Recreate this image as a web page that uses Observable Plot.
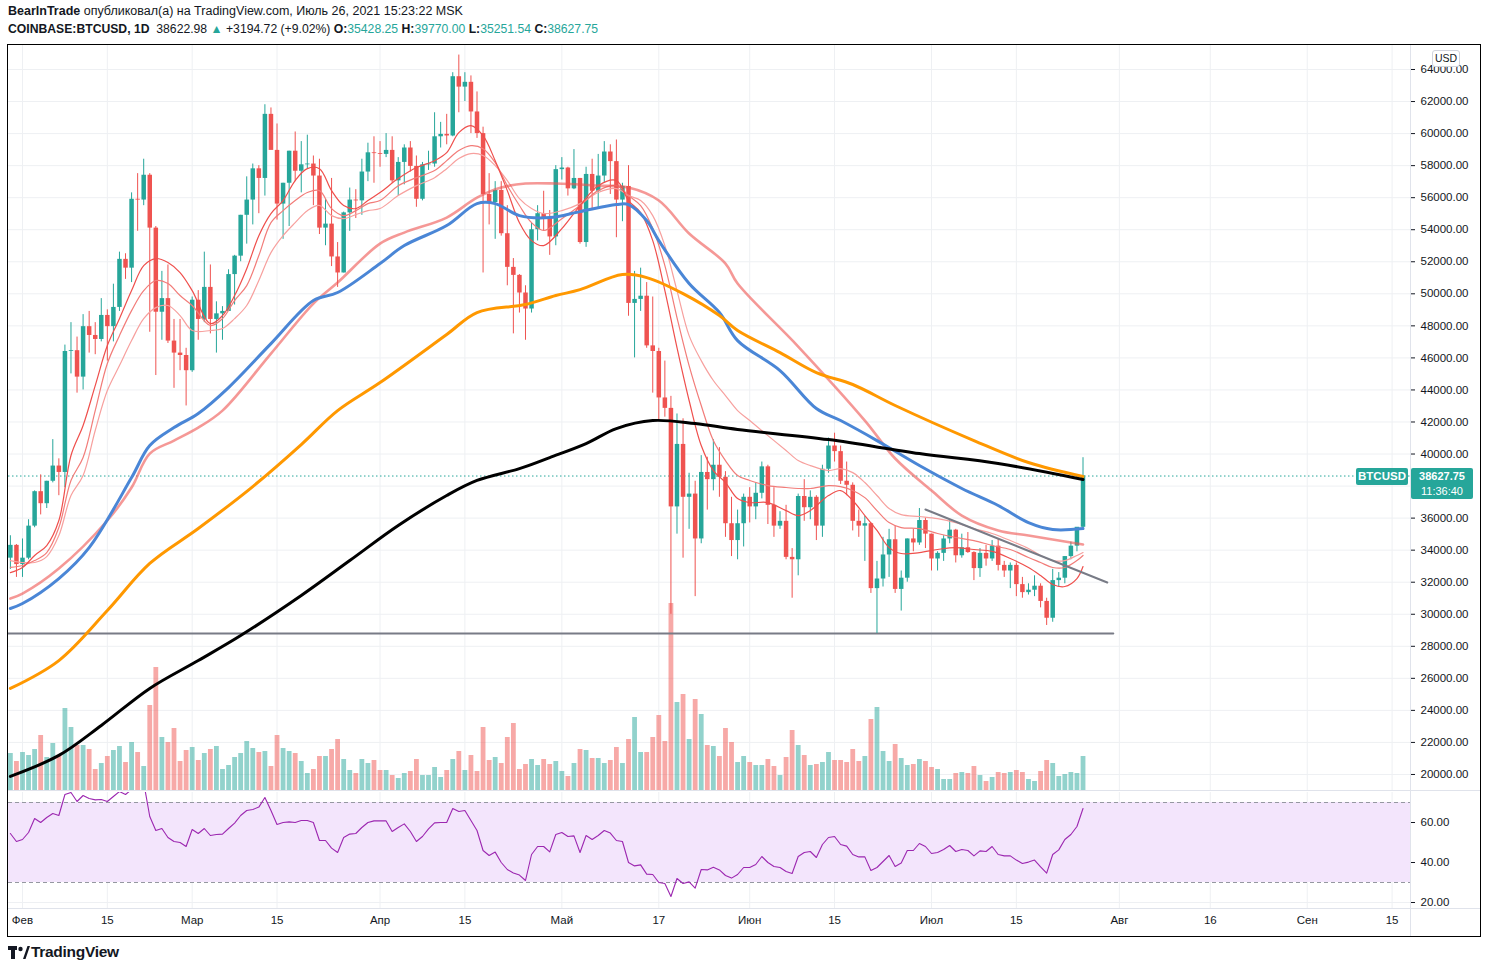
<!DOCTYPE html>
<html><head><meta charset="utf-8">
<script src="https://cdn.jsdelivr.net/npm/d3@7"></script>
<script src="https://cdn.jsdelivr.net/npm/@observablehq/plot@0.6"></script>
<style>
body{margin:0;background:#fff;font-family:"Liberation Sans",Arial,sans-serif;color:#131722;}
#root{position:relative;width:1487px;height:972px;overflow:hidden;background:#fff;}
.t{color:#26a69a;}
</style></head><body><div id="root"></div>
<script>
// ---------- DATA ----------
const firstDay = "2021-01-30";
const opens = [33500,34300,33100,33500,35500,37650,36900,38300,39250,38850,46400,46450,44800,47950,47400,47150,48650,47950,49150,52150,51600,55900,55850,57400,54100,48850,49700,47050,46300,46150,
45200,49600,48400,50400,48400,48750,48900,51200,52350,54900,55850,57800,57200,61200,58950,55600,56900,58900,57650,58050,58100,57350,54100,54350,52300,51300,55050,55850,55800,57600,58800,
58750,58700,58950,57050,58200,59100,57950,55900,58050,58100,59800,59950,59850,63550,62900,63200,61350,60000,56200,55700,56450,53750,51650,51150,50050,49050,54000,55000,54750,53550,
57750,57850,56550,57200,53200,57450,56400,57350,58850,58250,55850,56700,49400,49650,49850,46750,46400,43500,42850,36700,40600,37300,37500,34700,38850,38400,39300,38550,35650,34600,35650,
37300,36700,37550,39200,36800,35500,35800,33550,33400,37350,36650,37300,35500,39050,40500,40150,38300,38050,35800,35500,35650,31600,32200,33700,34650,31550,32250,34700,34450,35850,
35000,33450,33800,34700,35250,33650,34150,33850,32850,33800,33450,34250,33050,32700,33050,31850,31350,31500,31750,30800,29750,32100,32250,33600,34250,35428.25];
const highs = [34900,34350,34700,35900,37700,38700,38300,40900,39700,46800,48200,47300,48700,48900,48200,49700,49000,50600,52600,52500,56300,57500,58400,57500,54200,51400,51800,48400,48400,46600,
49800,50200,52600,51800,49500,49200,51500,52400,54900,57300,58100,58000,61800,61600,60600,56900,58900,60100,59500,59900,58600,58400,55900,57200,53200,55100,56600,56500,58400,59400,59800,
59500,60000,59800,58500,59300,59500,58600,58200,58900,61300,60700,61200,63800,64900,63800,63600,62600,60400,57500,57000,57000,55500,52200,51200,50500,54400,55500,56400,55200,58000,
58500,57900,59000,57200,57900,58400,58700,59500,59300,59600,56900,58000,51400,51600,50700,49800,46600,45800,43600,42500,42200,38800,38300,39900,39800,40900,40400,38900,37300,36500,37500,
37900,38200,39500,39300,37900,36400,36800,34100,37500,38400,37700,37400,39300,41000,41300,40500,39500,38200,36500,36100,35700,33300,34800,35300,35500,32700,34700,35300,36600,36000,
35000,33900,34900,35900,35300,35000,35100,33900,34100,34300,34600,34700,33300,33200,33200,32300,31900,32400,31900,31000,32800,32600,33600,34500,35400,39770];
const lows = [32800,32300,32300,33400,35400,36200,36600,38200,37400,37900,45000,43800,44000,46300,46200,47000,45800,47000,48900,50900,50700,53900,55500,47600,44900,47100,46900,44100,45200,43000,
45100,47100,48200,47500,46300,47100,48900,49300,52000,53100,54300,55000,56100,59000,54600,53400,54200,57000,56300,57800,55500,53700,53000,51700,50400,51300,53900,54700,54900,57000,56900,
57900,58500,56900,56100,56800,57600,55400,55800,57700,57900,59100,59300,59800,61300,62000,60000,59700,51300,54300,53400,53600,50500,47500,48800,47100,48800,53300,53900,52400,53000,
57100,56100,56500,53100,52900,55300,55300,56900,56200,53500,54500,48600,46000,48900,46600,43800,42100,42300,30000,35000,33500,35300,31100,34400,36500,37700,37300,34800,33600,33400,34200,
35700,35900,37200,35600,34800,35300,33400,31000,32400,35800,35900,34600,34800,38800,39500,38100,37400,35200,34800,33300,31300,28800,31700,32300,31300,30200,32000,33900,34300,34100,
32700,32700,33300,34400,33200,33500,33800,32100,32300,33000,33300,32700,32300,31600,31100,31000,31200,31100,30400,29300,29500,31700,31900,33400,33900,35251.54];
const closes = [34300,33100,33500,35500,37650,36900,38300,39250,38850,46400,46450,44800,47950,47400,47150,48650,47950,49150,52150,51600,55900,55850,57400,54100,48850,49700,47050,46300,46150,45200,
49600,48400,50400,48400,48750,48900,51200,52350,54900,55850,57800,57200,61200,58950,55600,56900,58900,57650,58050,58100,57350,54100,54350,52300,51300,55050,55850,55800,57600,58800,58750,
58700,58950,57050,58200,59100,57950,55900,58050,58100,59800,59950,59850,63550,62900,63200,61350,60000,56200,55700,56450,53750,51650,51150,50050,49050,54000,55000,54750,53550,57750,
57850,56550,57200,53200,57450,56400,57350,58850,58250,55850,56700,49400,49650,49850,46750,46400,43500,42850,36700,40600,37300,37500,34700,38850,38400,39300,38550,35650,34600,35650,37300,
36700,37550,39200,36800,35500,35800,33550,33400,37350,36650,37300,35500,39050,40500,40150,38300,38050,35800,35500,35650,31600,32200,33700,34650,31550,32250,34700,34450,35850,35000,
33450,33800,34700,35250,33650,34150,33850,32850,33800,33450,34250,33050,32700,33050,31850,31350,31500,31750,30800,29750,32100,32250,33600,34250,35428.26,38627.75];
// volume, thousand BTC (estimated)
const volumes = [37,29,
38,35,41,55,33,47,35,82,63,45,45,41,21,27,34,40,44,28,48,38,24,85,123,53,48,62,29,40,
43,30,37,41,44,21,25,33,37,49,42,38,39,24,55,42,39,37,29,17,21,34,34,41,51,31,20,17,31,27,30,
20,20,15,12,17,19,31,15,15,23,13,20,31,39,20,35,19,63,30,33,27,53,67,21,26,31,25,31,26,29,
19,14,27,41,40,32,32,27,30,43,27,51,73,38,38,53,75,49,187,88,96,51,91,76,45,44,34,62,48,28,34,
28,25,25,31,24,15,33,60,45,35,25,26,28,38,30,30,28,41,29,34,71,83,39,29,46,32,25,26,31,29,
23,21,11,11,17,18,17,24,15,9,13,18,17,18,20,18,11,9,19,30,27,14,16,18,17,34];
const rsiValues = [54.5,50.5,
51.5,55,62,60,62.5,64.5,63.5,74,75,70.5,73.5,72,71.3,71.5,70.5,73,75.5,74,76.5,78,80,63,56,57,52.5,50.5,50,48,
56.5,54.5,57,53.5,54,54.2,57,59.7,63.5,66,66.5,67.7,72.5,66,59,60,60.3,60,61,61,60,51,51,47.2,45,52.5,54.2,54.5,57.5,60,60.8,
60.8,60.8,55.5,57.5,59.3,55.5,50.5,53,56.8,59.8,60,60,67,65.5,66,61,56,46,43.5,45.2,40,36.5,34.8,33.7,31,44,48,48,45.3,54,
55,53,53.3,45,53.5,51.5,53.5,56,54.7,51,50.5,40,38.3,38.8,34.2,34,30,29.5,23,32,29.5,30.3,27.2,36.5,36.3,37.6,36.3,33.5,32.2,34,37.5,
37.5,39,43,40,38,37.5,35.5,34.5,43,45,45.5,42.5,49,52.5,53,49,48.2,44,42.8,42.8,36,37.5,40.5,43.5,38,39.7,46,46,49.5,48,
44.5,45,46.5,48.5,45.5,46.5,46,43.3,45.8,45.5,48,44,43.3,43.3,41.2,39.5,40.2,41.2,37.8,34.7,44,46.3,51.5,54,58,67];

// moving averages
const maBlack = [["2021-01-30",19880],["2021-02-07",21190],["2021-02-14",23060],["2021-02-22",25370],["2021-03-02",27110],["2021-03-09",28670],["2021-03-19",31170],["2021-03-27",33350],["2021-04-04",35540],["2021-04-12",37410],["2021-04-17",38350],["2021-04-24",39090],["2021-04-29",39780],["2021-05-05",40650],["2021-05-10",41590],["2021-05-16",42090],["2021-05-23",41900],["2021-05-30",41530],["2021-06-14",40900],["2021-06-29",40030],["2021-07-12",39410],["2021-07-26",38410]];
const maOrange = [["2021-01-30",25370],["2021-02-07",27110],["2021-02-15",30230],["2021-02-22",33170],["2021-03-02",35350],["2021-03-11",37970],["2021-03-19",40590],["2021-03-25",42710],["2021-04-01",44460],["2021-04-12",47460],["2021-04-17",48830],["2021-04-25",49330],["2021-04-30",49890],["2021-05-04",50260],["2021-05-11",51200],["2021-05-15",51010],["2021-05-21",50010],["2021-05-27",48640],["2021-05-30",47710],["2021-06-06",46330],["2021-06-12",45080],["2021-06-18",44340],["2021-06-25",43030],["2021-07-08",40840],["2021-07-17",39470],["2021-07-26",38600]];
const maBlue = [["2021-01-30",30360],["2021-02-01",30670],["2021-02-07",32230],["2021-02-12",34160],["2021-02-19",38530],["2021-02-22",40530],["2021-02-26",41650],["2021-03-02",42530],["2021-03-07",44150],["2021-03-14",46890],["2021-03-21",49580],["2021-03-25",50080],["2021-04-01",51890],["2021-04-05",53010],["2021-04-12",54260],["2021-04-17",55630],["2021-04-20",55630],["2021-04-24",54880],["2021-04-29",54760],["2021-05-04",55130],["2021-05-10",55570],["2021-05-12",55570],["2021-05-15",54570],["2021-05-17",53320],["2021-05-22",50640],["2021-05-27",48830],["2021-05-30",47080],["2021-06-06",45210],["2021-06-12",42840],["2021-06-16",42090],["2021-06-22",40840],["2021-06-29",39280],["2021-07-06",37850],["2021-07-12",36790],["2021-07-17",35720],["2021-07-21",35290],["2021-07-26",35350]];
const maSalmon = [["2021-01-30",30980],["2021-02-01",31290],["2021-02-07",32850],["2021-02-15",35850],["2021-02-19",37910],["2021-02-22",40030],["2021-02-26",40840],["2021-03-02",41650],["2021-03-06",42710],["2021-03-14",46270],["2021-03-21",49390],["2021-03-25",50700],["2021-04-01",53130],["2021-04-05",53820],["2021-04-12",54760],["2021-04-17",56000],["2021-04-21",56630],["2021-04-25",56880],["2021-04-30",56880],["2021-05-07",56750],["2021-05-12",56630],["2021-05-17",55820],["2021-05-22",53760],["2021-05-28",51890],["2021-05-30",50640],["2021-06-09",46710],["2021-06-20",42090],["2021-06-25",39720],["2021-07-01",37720],["2021-07-06",36160],["2021-07-12",35230],["2021-07-17",34910],["2021-07-26",34350]];
const maFast = [["2021-01-30",32600],["2021-02-01",32920],["2021-02-03",33670],["2021-02-05",34290],["2021-02-07",35850],["2021-02-09",39910],["2021-02-11",41780],["2021-02-13",44270],["2021-02-15",46770],["2021-02-17",48450],["2021-02-19",50200],["2021-02-21",51760],["2021-02-23",52200],["2021-02-25",51950],["2021-02-27",51320],["2021-03-01",50200],["2021-03-04",48140],["2021-03-06",48640],["2021-03-08",49890],["2021-03-10",51570],["2021-03-12",53630],["2021-03-14",55010],["2021-03-16",55820],["2021-03-18",57070],["2021-03-20",57810],["2021-03-22",57810],["2021-03-24",56440],["2021-03-26",55510],["2021-03-28",55320],["2021-03-30",55820],["2021-04-01",56320],["2021-04-04",57190],["2021-04-07",57880],["2021-04-10",58310],["2021-04-12",58810],["2021-04-14",60060],["2021-04-16",60500],["2021-04-18",59870],["2021-04-20",58310],["2021-04-22",56440],["2021-04-24",54440],["2021-04-26",53320],["2021-04-28",53010],["2021-05-01",54070],["2021-05-04",55510],["2021-05-07",56750],["2021-05-10",57070],["2021-05-12",55820],["2021-05-14",55070],["2021-05-16",53320],["2021-05-18",50200],["2021-05-20",46640],["2021-05-22",43340],["2021-05-24",40530],["2021-05-26",38970],["2021-05-28",38220],["2021-05-30",37220],["2021-06-01",36970],["2021-06-04",36970],["2021-06-07",36470],["2021-06-09",36160],["2021-06-11",36470],["2021-06-14",37410],["2021-06-16",37720],["2021-06-18",37100],["2021-06-20",36160],["2021-06-22",35230],["2021-06-24",34160],["2021-06-26",33790],["2021-06-29",33850],["2021-07-02",34040],["2021-07-05",34160],["2021-07-08",34040],["2021-07-11",33920],["2021-07-14",33480],["2021-07-17",32920],["2021-07-19",32420],["2021-07-21",31860],["2021-07-23",31730],["2021-07-25",32230],["2021-07-26",32980]];
const maMid = [["2021-01-30",32920],["2021-02-01",33040],["2021-02-03",33350],["2021-02-05",33850],["2021-02-07",35410],["2021-02-09",38350],["2021-02-11",39780],["2021-02-13",42710],["2021-02-15",45650],["2021-02-17",47390],["2021-02-19",48950],["2021-02-21",50200],["2021-02-23",50830],["2021-02-25",50640],["2021-02-27",49890],["2021-03-01",49270],["2021-03-04",48020],["2021-03-06",48450],["2021-03-08",49580],["2021-03-10",50510],["2021-03-12",52390],["2021-03-14",54440],["2021-03-16",55190],["2021-03-18",55820],["2021-03-20",56320],["2021-03-22",56440],["2021-03-24",55320],["2021-03-26",54880],["2021-03-28",55190],["2021-03-30",55630],["2021-04-01",55820],["2021-04-04",56750],["2021-04-07",57250],["2021-04-10",57690],["2021-04-12",58310],["2021-04-14",58940],["2021-04-16",59250],["2021-04-18",59060],["2021-04-20",58190],["2021-04-22",56750],["2021-04-24",55510],["2021-04-26",54440],["2021-04-28",53950],["2021-05-01",54690],["2021-05-04",55510],["2021-05-07",56440],["2021-05-10",56750],["2021-05-12",56130],["2021-05-14",55510],["2021-05-16",54070],["2021-05-18",51760],["2021-05-20",48520],["2021-05-22",45520],["2021-05-24",43030],["2021-05-26",40840],["2021-05-28",39590],["2021-05-30",38660],["2021-06-01",38350],["2021-06-04",38030],["2021-06-07",37910],["2021-06-09",37850],["2021-06-11",37850],["2021-06-14",38030],["2021-06-16",37970],["2021-06-18",37720],["2021-06-20",37280],["2021-06-22",36470],["2021-06-24",35720],["2021-06-26",35410],["2021-06-29",35350],["2021-07-02",35040],["2021-07-05",34790],["2021-07-08",34600],["2021-07-11",34290],["2021-07-14",34040],["2021-07-17",33540],["2021-07-19",33230],["2021-07-21",32920],["2021-07-23",32920],["2021-07-25",33350],["2021-07-26",33670]];
const maSlow = [["2021-01-30",33350],["2021-02-01",33230],["2021-02-03",33230],["2021-02-05",33600],["2021-02-07",34910],["2021-02-09",37410],["2021-02-11",38660],["2021-02-13",41470],["2021-02-15",43960],["2021-02-17",45520],["2021-02-19",47080],["2021-02-21",48450],["2021-02-23",49140],["2021-02-25",49270],["2021-02-27",48640],["2021-03-01",47710],["2021-03-04",47710],["2021-03-06",47830],["2021-03-08",48450],["2021-03-10",49270],["2021-03-12",50830],["2021-03-14",52570],["2021-03-16",53630],["2021-03-18",54440],["2021-03-20",55190],["2021-03-22",55510],["2021-03-24",54880],["2021-03-26",54690],["2021-03-28",54940],["2021-03-30",55190],["2021-04-01",55320],["2021-04-04",56130],["2021-04-07",56750],["2021-04-10",57250],["2021-04-12",57810],["2021-04-14",58440],["2021-04-16",58750],["2021-04-18",58630],["2021-04-20",58000],["2021-04-22",57070],["2021-04-24",55940],["2021-04-26",55320],["2021-04-28",55010],["2021-05-01",55190],["2021-05-04",55630],["2021-05-07",56320],["2021-05-10",56570],["2021-05-12",56130],["2021-05-14",55820],["2021-05-16",54880],["2021-05-18",53010],["2021-05-20",50200],["2021-05-22",47390],["2021-05-24",45830],["2021-05-26",44590],["2021-05-28",43650],["2021-05-30",42710],["2021-06-01",42090],["2021-06-04",41150],["2021-06-07",40220],["2021-06-09",39590],["2021-06-11",39280],["2021-06-14",38970],["2021-06-16",39090],["2021-06-18",38840],["2021-06-20",38220],["2021-06-22",37410],["2021-06-24",36600],["2021-06-26",36220],["2021-06-29",36100],["2021-07-02",35970],["2021-07-05",35720],["2021-07-08",35350],["2021-07-11",35040],["2021-07-14",34600],["2021-07-17",34100],["2021-07-19",33670],["2021-07-21",33350],["2021-07-23",33350],["2021-07-25",33670],["2021-07-26",33850]];
const trendLine = [["2021-06-30",36540],["2021-07-30",31980]];
const supportLine = [["2021-01-29",28800],["2021-07-31",28800]];

const priceTicks = [20000,22000,24000,26000,28000,30000,32000,34000,36000,38000,40000,42000,44000,46000,48000,50000,52000,54000,56000,58000,60000,62000,64000];
const rsiTicks = [20,40,60];
const tickDates = ["2021-02-01","2021-02-15","2021-03-01","2021-03-15","2021-04-01","2021-04-15","2021-05-01","2021-05-17","2021-06-01","2021-06-15","2021-07-01","2021-07-15","2021-08-01","2021-08-16","2021-09-01","2021-09-15"];
const tickLabels = ["Фев","15","Мар","15","Апр","15","Май","17","Июн","15","Июл","15","Авг","16","Сен","15"];

// ---------- BUILD ----------
const UP="#26a69a", DOWN="#ef5350";
const t0 = Date.parse(firstDay);
const DAY = 864e5;
const rows = closes.map((c,i)=>({date:new Date(t0+i*DAY),open:opens[i],high:highs[i],low:lows[i],close:c,volume:volumes[i],rsi:rsiValues[i]}));
rows.forEach(r=>r.color = r.close>=r.open?UP:DOWN);
const pts = a => a.map(([d,v])=>({date:new Date(d),value:v}));
const ticksX = tickDates.map(d=>new Date(d));
const labelByTime = new Map(ticksX.map((d,i)=>[+d,tickLabels[i]]));
const lastClose = closes[closes.length-1];
// the axis label hidden under the last-price badge is not shown (as in the reference)
const axisTicks = priceTicks.filter(v=>Math.abs(v-lastClose)>1200);

const xStart = new Date(Date.parse("2021-02-01") - 2.31*DAY);
const xEnd = new Date(xStart.getTime() + 231.35*DAY);
const W=1487, ML=8, MR=77;
const FONT='"Liberation Sans",Arial,sans-serif';
const baseStyle = top => ({background:"transparent",position:"absolute",left:"0px",top:top+"px",color:"#131722",fontFamily:FONT,fontSize:"11.5px",overflow:"visible"});
const xOpt = {type:"utc",domain:[xStart,xEnd],axis:null};
const yPriceDomain = [19000,65560];
const GRID="#eef0f3";

const root = document.getElementById("root");

// layer 1: grid + price axis
const gridLayer = Plot.plot({
  width:W,height:790,marginTop:44,marginBottom:0,marginLeft:ML,marginRight:MR,
  style:baseStyle(0),
  x:xOpt,
  y:{domain:yPriceDomain,axis:"right",ticks:axisTicks,tickFormat:d=>d.toFixed(2),tickSize:4,tickPadding:6,label:null},
  marks:[
    Plot.ruleX(ticksX,{stroke:GRID}),
    Plot.ruleY(priceTicks,{stroke:GRID})
  ]
});
root.appendChild(gridLayer);

// layer 2: volume
const volLayer = Plot.plot({
  width:W,height:200,marginTop:0,marginBottom:0,marginLeft:ML,marginRight:MR,
  style:baseStyle(590),
  x:xOpt,y:{domain:[0,200],axis:null},
  marks:[
    Plot.ruleX(rows,{x:"date",y1:0,y2:"volume",stroke:"color",strokeOpacity:0.5,strokeWidth:4.8})
  ]
});
root.appendChild(volLayer);

// layer 3: candles & lines
const priceLayer = Plot.plot({
  width:W,height:790,marginTop:44,marginBottom:0,marginLeft:ML,marginRight:MR,
  style:baseStyle(0),
  x:xOpt,y:{domain:yPriceDomain,axis:null},
  marks:[
    Plot.ruleY([lastClose],{stroke:UP,strokeDasharray:"1.5,2.5",strokeWidth:1}),
    Plot.line(pts(supportLine),{x:"date",y:"value",stroke:"#787b86",strokeWidth:2,clip:true}),
    Plot.ruleX(rows,{x:"date",y1:"low",y2:"high",stroke:"color",strokeWidth:1}),
    Plot.ruleX(rows,{x:"date",y1:"open",y2:"close",stroke:"color",strokeWidth:4.5}),
    Plot.line(pts(maSlow),{x:"date",y:"value",stroke:"#f7a09e",strokeWidth:1.2,curve:"catmull-rom"}),
    Plot.line(pts(maMid),{x:"date",y:"value",stroke:"#f27c79",strokeWidth:1.2,curve:"catmull-rom"}),
    Plot.line(pts(maFast),{x:"date",y:"value",stroke:"#ef4f4c",strokeWidth:1.2,curve:"catmull-rom"}),
    Plot.line(pts(maSalmon),{x:"date",y:"value",stroke:"#ef5350",strokeOpacity:0.6,strokeWidth:2.6,curve:"catmull-rom"}),
    Plot.line(pts(maBlue),{x:"date",y:"value",stroke:"#4a86d6",strokeWidth:3,curve:"catmull-rom"}),
    Plot.line(pts(maOrange),{x:"date",y:"value",stroke:"#ff9800",strokeWidth:3,curve:"catmull-rom"}),
    Plot.line(pts(maBlack),{x:"date",y:"value",stroke:"#000000",strokeWidth:3,curve:"catmull-rom"}),
    Plot.line(pts(trendLine),{x:"date",y:"value",stroke:"#787b86",strokeWidth:2})
  ]
});
root.appendChild(priceLayer);

// layer 4: RSI + time axis
const rsiLayer = Plot.plot({
  width:W,height:146,marginTop:2,marginBottom:28,marginLeft:ML,marginRight:MR,
  style:baseStyle(790),
  x:{type:"utc",domain:[xStart,xEnd],axis:"bottom",ticks:ticksX,tickFormat:d=>labelByTime.get(+d),tickSize:0,tickPadding:7,label:null},
  y:{domain:[17,75],axis:"right",ticks:rsiTicks,tickFormat:d=>d.toFixed(2),tickSize:4,tickPadding:6,label:null},
  marks:[
    Plot.ruleX(ticksX,{stroke:GRID}),
    Plot.ruleY(rsiTicks,{stroke:GRID}),
    Plot.rect([{a:xStart,b:xEnd,lo:30,hi:70}],{x1:"a",x2:"b",y1:"lo",y2:"hi",fill:"#f3e5fc"}),
    Plot.ruleY([30,70],{stroke:"#9598a1",strokeDasharray:"4,3"}),
    Plot.line(rows,{x:"date",y:"rsi",stroke:"#9c27b0",strokeWidth:1.1,clip:true})
  ]
});
root.appendChild(rsiLayer);

// ---------- HTML chrome ----------
function el(html, css){const d=document.createElement("div");d.innerHTML=html;Object.assign(d.style,css);d.style.position="absolute";root.appendChild(d);return d;}
el('<b>BearInTrade</b> опубликовал(а) на TradingView.com, Июль 26, 2021 15:23:22 MSK',{left:"8px",top:"4px",fontSize:"12.5px",whiteSpace:"nowrap"});
el('<b>COINBASE:BTCUSD, 1D</b>&nbsp; 38622.98 <span class="t">▲</span> +3194.72 (+9.02%) <b>O:</b><span class="t">35428.25</span> <b>H:</b><span class="t">39770.00</span> <b>L:</b><span class="t">35251.54</span> <b>C:</b><span class="t">38627.75</span>',{left:"8px",top:"22px",fontSize:"12.2px",whiteSpace:"nowrap"});
// separators
el('',{left:"7px",top:"790px",width:"1474px",height:"1px",background:"#e0e3eb"});
el('',{left:"7px",top:"908px",width:"1474px",height:"1px",background:"#e0e3eb"});
el('',{left:"1410px",top:"44px",width:"1px",height:"892px",background:"#e0e3eb"});
// frame
el('',{left:"7px",top:"44px",width:"1474px",height:"893px",border:"1px solid #000",boxSizing:"border-box",pointerEvents:"none"});
// USD badge
el('USD',{left:"1432px",top:"50px",width:"26px",height:"15px",border:"1px solid #d1d4dc",borderRadius:"3px",background:"#fff",fontSize:"10.5px",textAlign:"center",lineHeight:"15px"});
// last price labels
const yLast = priceLayer.scale("y").apply(lastClose);
el('BTCUSD',{left:"1356px",top:(yLast-8)+"px",width:"52px",height:"17px",background:UP,color:"#fff",fontWeight:"bold",fontSize:"11.5px",textAlign:"center",lineHeight:"17px",borderRadius:"2px"});
el('',{left:"1411px",top:(yLast-8)+"px",width:"62px",height:"31px",background:UP,borderRadius:"2px"});
el('38627.75',{left:"1411px",top:(yLast-7)+"px",width:"62px",height:"14px",color:"#fff",fontSize:"11px",fontWeight:"bold",textAlign:"center",lineHeight:"14px"});
el('11:36:40',{left:"1411px",top:(yLast+8)+"px",width:"62px",height:"14px",color:"#fff",fontSize:"11px",textAlign:"center",lineHeight:"14px"});
// footer logo
el('<svg width="22" height="14" viewBox="0 0 22 14"><rect x="0" y="0" width="9" height="4" fill="#131722"/><rect x="3" y="0" width="4" height="13" fill="#131722"/><circle cx="12.5" cy="3" r="2.2" fill="#131722"/><path d="M15 13 L19.5 0 L22 0 L17.5 13 Z" fill="#131722"/></svg>',{left:"8px",top:"946px"});
el('TradingView',{left:"31px",top:"943px",fontSize:"15.5px",fontWeight:"bold",letterSpacing:"-0.3px",color:"#131722"});
</script></body></html>
